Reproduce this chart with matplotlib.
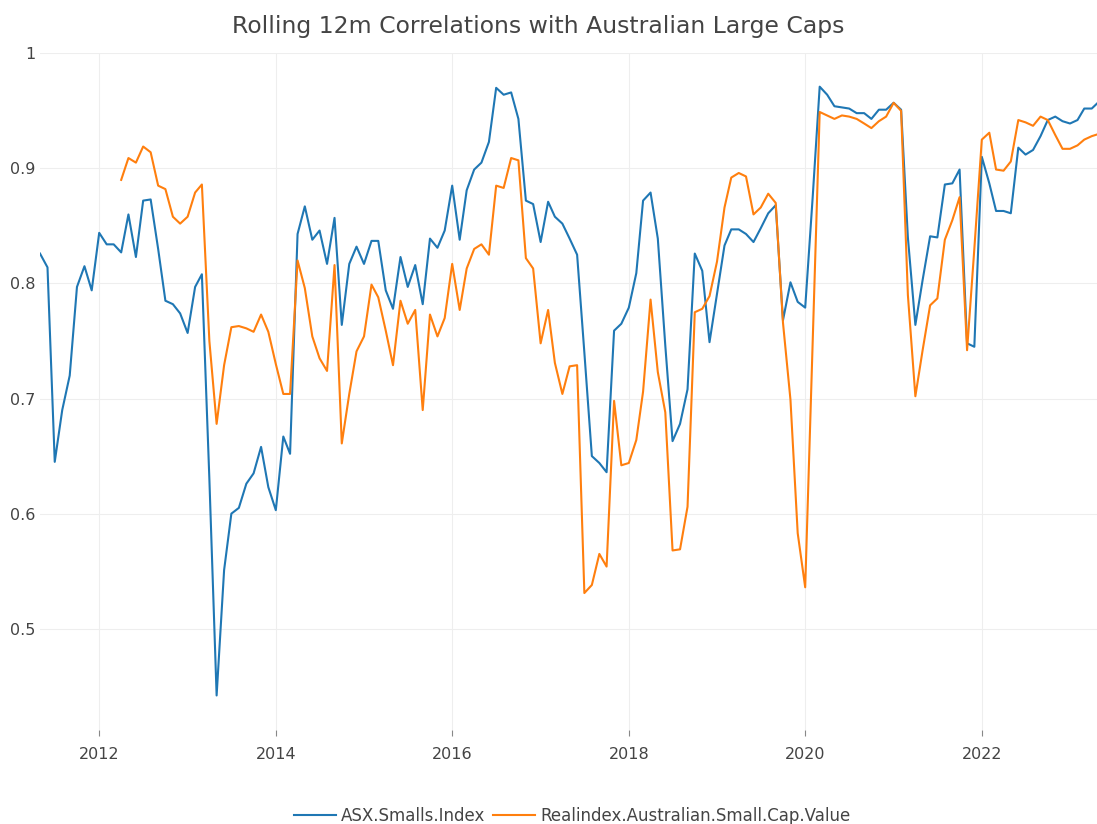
"""Rolling 12m correlations with Australian large caps."""

import matplotlib

matplotlib.use("Agg")
import matplotlib.pyplot as plt
import numpy as np
import pandas as pd

START = "2011-04-30"

asx_smalls = [
    0.826, 0.814, 0.645, 0.690, 0.720, 0.797, 0.815, 0.794, 0.844, 0.834,
    0.834, 0.827, 0.860, 0.823, 0.872, 0.873, 0.830, 0.785, 0.782, 0.774,
    0.757, 0.797, 0.808, 0.630, 0.442, 0.551, 0.600, 0.605, 0.626, 0.635,
    0.658, 0.623, 0.603, 0.667, 0.652, 0.843, 0.867, 0.838, 0.846, 0.817,
    0.857, 0.764, 0.817, 0.832, 0.817, 0.837, 0.837, 0.794, 0.778, 0.823,
    0.797, 0.816, 0.782, 0.839, 0.831, 0.846, 0.885, 0.838, 0.881, 0.899,
    0.905, 0.923, 0.970, 0.964, 0.966, 0.943, 0.872, 0.869, 0.836, 0.871,
    0.858, 0.852, 0.839, 0.825, 0.740, 0.650, 0.644, 0.636, 0.759, 0.765,
    0.779, 0.809, 0.872, 0.879, 0.839, 0.746, 0.663, 0.678, 0.708, 0.826,
    0.811, 0.749, 0.791, 0.833, 0.847, 0.847, 0.843, 0.836, 0.848, 0.861,
    0.868, 0.768, 0.801, 0.784, 0.779, 0.875, 0.971, 0.964, 0.954, 0.953,
    0.952, 0.948, 0.948, 0.943, 0.951, 0.951, 0.957, 0.951, 0.840, 0.764,
    0.803, 0.841, 0.840, 0.886, 0.887, 0.899, 0.748, 0.745, 0.910, 0.887,
    0.863, 0.863, 0.861, 0.918, 0.912, 0.916, 0.928, 0.942, 0.945, 0.941,
    0.939, 0.942, 0.952, 0.952, 0.958,
]

realindex_value = [np.nan] * 11 + [
    0.890, 0.909, 0.905, 0.919, 0.914, 0.885, 0.882, 0.858, 0.852,
    0.858, 0.879, 0.886, 0.750, 0.678, 0.729, 0.762, 0.763, 0.761, 0.758,
    0.773, 0.758, 0.730, 0.704, 0.704, 0.820, 0.796, 0.754, 0.735, 0.724,
    0.816, 0.661, 0.704, 0.741, 0.754, 0.799, 0.788, 0.759, 0.729, 0.785,
    0.765, 0.777, 0.690, 0.773, 0.754, 0.770, 0.817, 0.777, 0.813, 0.830,
    0.834, 0.825, 0.885, 0.883, 0.909, 0.907, 0.822, 0.813, 0.748, 0.777,
    0.731, 0.704, 0.728, 0.729, 0.531, 0.538, 0.565, 0.554, 0.698, 0.642,
    0.644, 0.664, 0.706, 0.786, 0.723, 0.688, 0.568, 0.569, 0.606, 0.775,
    0.778, 0.789, 0.819, 0.866, 0.892, 0.896, 0.893, 0.860, 0.866, 0.878,
    0.870, 0.766, 0.699, 0.583, 0.536, 0.750, 0.949, 0.946, 0.943, 0.946,
    0.945, 0.943, 0.939, 0.935, 0.941, 0.945, 0.957, 0.950, 0.790, 0.702,
    0.742, 0.781, 0.787, 0.838, 0.855, 0.875, 0.742, 0.830, 0.925, 0.931,
    0.899, 0.898, 0.906, 0.942, 0.940, 0.937, 0.945, 0.942, 0.929, 0.917,
    0.917, 0.920, 0.925, 0.928, 0.930,
]

series_names = ["ASX.Smalls.Index", "Realindex.Australian.Small.Cap.Value"]
series_colors = ["#1f77b4", "#ff7f0e"]
tick_years = [2012, 2014, 2016, 2018, 2020, 2022]
y_ticks = [0.5, 0.6, 0.7, 0.8, 0.9, 1.0]
y_tick_labels = ["0.5", "0.6", "0.7", "0.8", "0.9", "1"]


def main():
    dates = pd.date_range(START, periods=len(asx_smalls), freq="ME")
    text_color = "#444444"
    plt.rcParams["font.family"] = ["DejaVu Sans"]

    W, H = 1097, 824
    fig = plt.figure(figsize=(W / 100, H / 100), dpi=100)
    left, right, top, bottom = 40, 1099, 53.3, 730
    ax = fig.add_axes([left / W, 1 - bottom / H, (right - left) / W, (bottom - top) / H])

    for vals, name, color in zip([asx_smalls, realindex_value], series_names, series_colors):
        ax.plot(dates, vals, color=color, lw=1.5, label=name, solid_joinstyle="round")

    ax.set_xlim(dates[0], dates[-1])
    ax.set_ylim(0.412, 1.0)
    ax.set_xticks([pd.Timestamp(f"{y}-01-01") for y in tick_years])
    ax.set_xticklabels([str(y) for y in tick_years])
    ax.set_yticks(y_ticks)
    ax.set_yticklabels(y_tick_labels)

    ax.grid(True, color="#eeeeee", lw=0.8)
    ax.set_axisbelow(True)
    for s in ax.spines.values():
        s.set_visible(False)
    ax.tick_params(axis="x", length=4, width=0.8, color="#888888", labelcolor=text_color,
                   labelsize=11.5, pad=8)
    ax.tick_params(axis="y", length=0, labelcolor=text_color, labelsize=11.5, pad=3)

    fig.text(538 / W, 1 - 27 / H, "Rolling 12m Correlations with Australian Large Caps",
             ha="center", va="center", fontsize=16.9, color=text_color)

    fig.legend(loc="center", bbox_to_anchor=(572 / W, 1 - 816 / H), ncol=2, frameon=False,
               fontsize=12, labelcolor=text_color, handlelength=2.5, handletextpad=0.3,
               columnspacing=0.5)

    fig.savefig("out.png", dpi=100)
    plt.close(fig)


if __name__ == "__main__":
    main()
